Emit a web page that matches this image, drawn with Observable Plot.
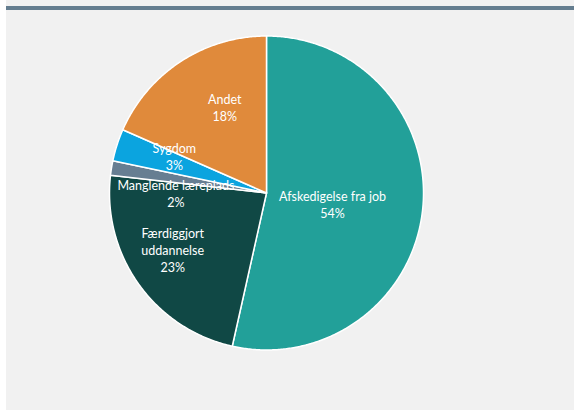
<!DOCTYPE html>
<html>
<head>
<meta charset="utf-8">
<script src="https://cdn.jsdelivr.net/npm/d3@7"></script>
<script src="https://cdn.jsdelivr.net/npm/@observablehq/plot@0.6"></script>
<style>
  html, body { margin: 0; padding: 0; background: #ffffff; }
  #wrap { position: relative; width: 574px; height: 410px; overflow: hidden; background: #ffffff; }
  #panel { position: absolute; left: 6px; top: 0; width: 568px; height: 410px; background: #f1f1f1; }
  #rule { position: absolute; left: 6px; top: 6px; width: 568px; height: 4px; background: #647d8f; }
  #chart { position: absolute; left: 0; top: 0; }
  #chart svg { background: transparent; }
</style>
</head>
<body>
<div id="wrap">
  <div id="panel"></div>
  <div id="rule"></div>
  <div id="chart"></div>
</div>
<script>
// Data (shares in percent, clockwise from 12 o'clock)
const categories = ["Afskedigelse fra job", "Færdiggjort\nuddannelse", "Manglende læreplads", "Sygdom", "Andet"];
const shares = [53.5, 23.3, 1.5, 3.3, 18.4];
const colors = ["#22a099", "#104845", "#677e92", "#0ba4df", "#e08a3b"];

// Build slice geometry (in unit-circle data coordinates)
const total = d3.sum(shares);
let cum = 0;
const slices = shares.map((v, i) => {
  const a0 = cum / total * 2 * Math.PI;
  cum += v;
  const a1 = cum / total * 2 * Math.PI;
  return { i, name: categories[i], value: v, a0, a1, mid: (a0 + a1) / 2 };
});

const arcPts = [];
for (const s of slices) {
  const n = Math.max(2, Math.ceil((s.a1 - s.a0) / (Math.PI / 360)));
  for (let k = 0; k <= n; k++) {
    const a = s.a0 + (s.a1 - s.a0) * k / n;
    arcPts.push({ slice: s.name, i: s.i, x: Math.sin(a), y: Math.cos(a) });
  }
}

// Label placement: mid-angle at a radius, plus small layout nudges (Excel best-fit look)
const labelR = i => (i === 0 ? 0.42 : 0.62);
const nudge = [[0, 3], [-15, 0], [5, 15], [0, -8], [11, -5]];
const labels = slices.map(s => ({
  x: labelR(s.i) * Math.sin(s.mid),
  y: labelR(s.i) * Math.cos(s.mid),
  text: s.name + "\n" + Math.round(s.value) + "%",
  dx: nudge[s.i][0],
  dy: nudge[s.i][1]
}));

const cx = 266.5, cy = 193, R = 157, W = 574, H = 410;

const plot = Plot.plot({
  width: W,
  height: H,
  marginLeft: cx - R,
  marginRight: W - (cx + R),
  marginTop: cy - R,
  marginBottom: H - (cy + R),
  x: { domain: [-1, 1], axis: null },
  y: { domain: [-1, 1], axis: null },
  style: { background: "transparent", fontFamily: "Lato, 'Open Sans', sans-serif" },
  marks: [
    Plot.area(arcPts, {
      x1: "x", y1: "y",
      x2: () => 0, y2: () => 0,
      z: "slice",
      fill: d => colors[d.i],
      stroke: "#ffffff",
      strokeWidth: 1.5,
      strokeLinejoin: "round"
    }),
    ...labels.map(l => Plot.text([l], {
      x: "x", y: "y", text: "text",
      dx: l.dx, dy: l.dy,
      fill: "#ffffff",
      fontSize: 12.5,
      lineHeight: 1.36,
      textAnchor: "middle"
    }))
  ]
});
document.getElementById("chart").appendChild(plot);
</script>
</body>
</html>
